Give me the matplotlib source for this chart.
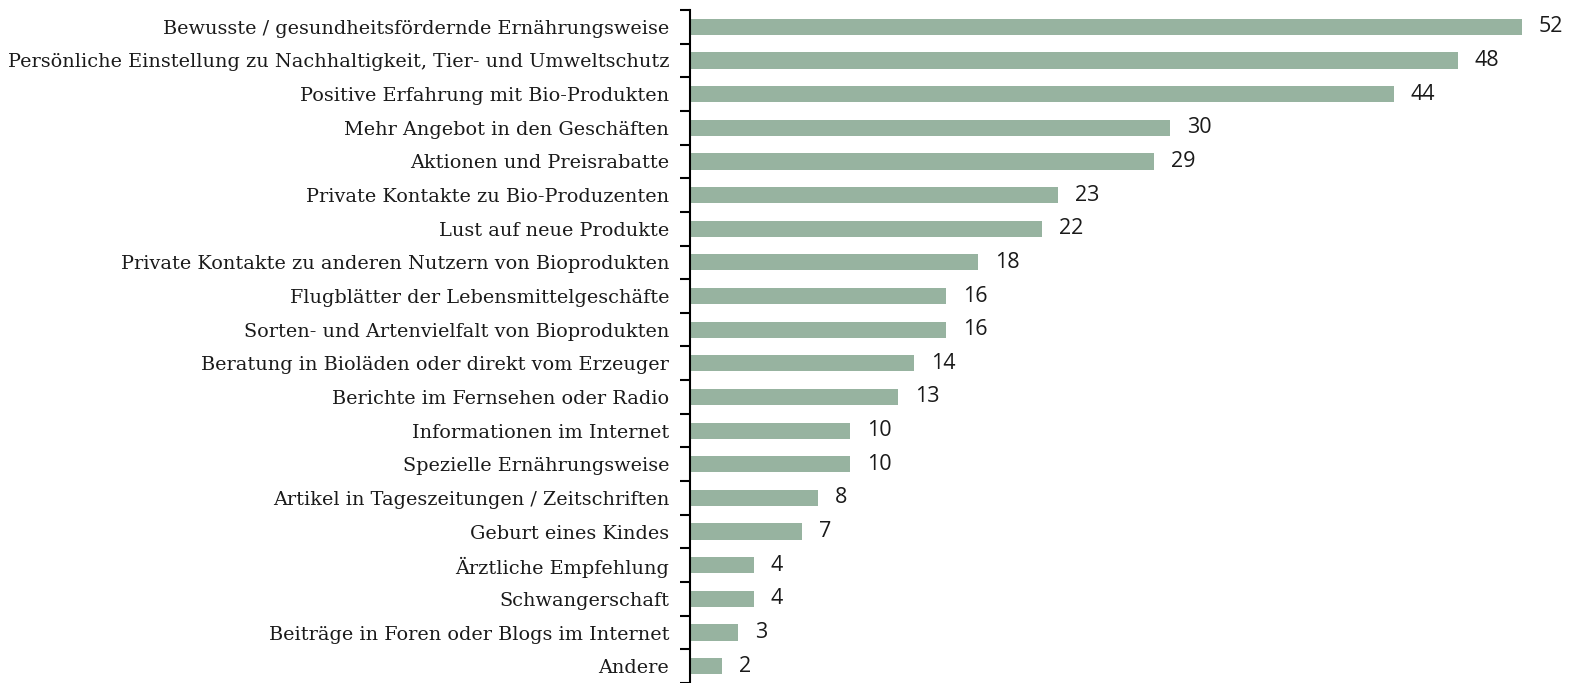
import numpy as np
import matplotlib
matplotlib.use("Agg")
import matplotlib.pyplot as plt

kategorien = [
    "Bewusste / gesundheitsfördernde Ernährungsweise",
    "Persönliche Einstellung zu Nachhaltigkeit, Tier- und Umweltschutz",
    "Positive Erfahrung mit Bio-Produkten",
    "Mehr Angebot in den Geschäften",
    "Aktionen und Preisrabatte",
    "Private Kontakte zu Bio-Produzenten",
    "Lust auf neue Produkte",
    "Private Kontakte zu anderen Nutzern von Bioprodukten",
    "Flugblätter der Lebensmittelgeschäfte",
    "Sorten- und Artenvielfalt von Bioprodukten",
    "Beratung in Bioläden oder direkt vom Erzeuger",
    "Berichte im Fernsehen oder Radio",
    "Informationen im Internet",
    "Spezielle Ernährungsweise",
    "Artikel in Tageszeitungen / Zeitschriften",
    "Geburt eines Kindes",
    "Ärztliche Empfehlung",
    "Schwangerschaft",
    "Beiträge in Foren oder Blogs im Internet",
    "Andere",
]
werte = [52, 48, 44, 30, 29, 23, 22, 18, 16, 16, 14, 13, 10, 10, 8, 7, 4, 4, 3, 2]

fig = plt.figure(figsize=(15.7, 6.83), dpi=100)
ax = fig.add_axes([690 / 1570, 0, 1 - 690 / 1570, 673 / 683])

y = np.arange(len(kategorien))
ax.barh(y, werte, height=0.48, color="#97b3a0")

for yi, w in zip(y, werte):
    ax.text(w + 1.05, yi, str(w), va="center", ha="left",
            fontsize=15.5, family="Open Sans", color="#1a1a1a")

ax.set_ylim(len(kategorien) - 0.5, -0.5)
ax.set_xlim(0, 55)

ax.set_yticks(y)
ax.set_yticklabels(kategorien, family="DejaVu Serif", fontsize=13.9, color="#1a1a1a")
ax.tick_params(axis="y", which="major", length=0, pad=15)
ax.set_yticks(np.arange(len(kategorien) + 1) - 0.5, minor=True)
ax.tick_params(axis="y", which="minor", length=7, width=1.5, direction="out")

ax.set_xticks([])
for s in ["top", "right", "bottom"]:
    ax.spines[s].set_visible(False)
ax.spines["left"].set_linewidth(1.5)

plt.savefig("out.png", dpi=100)
